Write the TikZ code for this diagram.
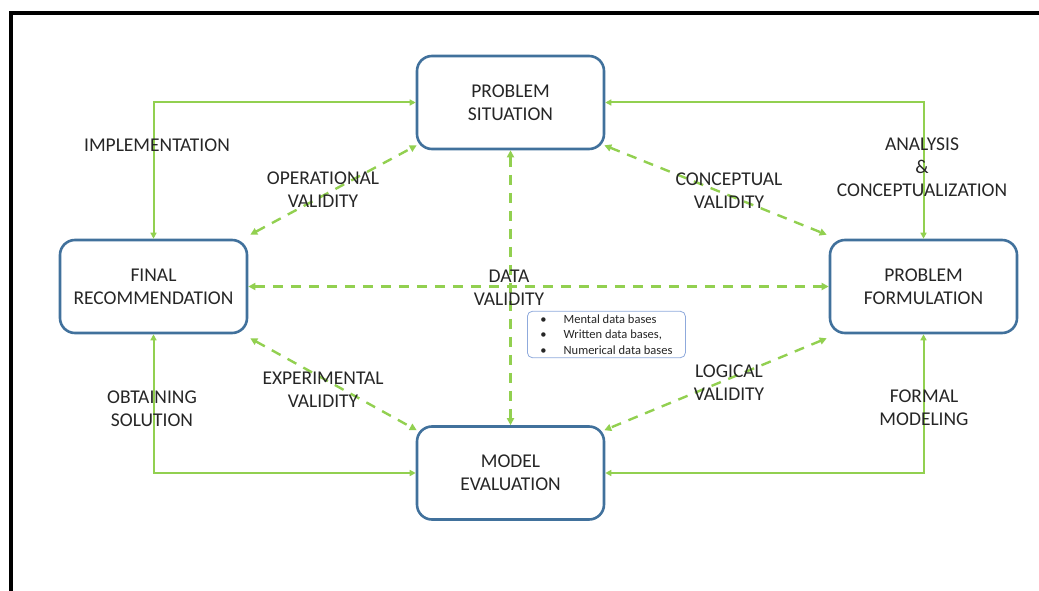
\documentclass[tikz,border=0pt]{standalone}
\usepackage{fontspec}
\setmainfont{Carlito}
\usetikzlibrary{arrows.meta}
\definecolor{boxblue}{HTML}{41719C}
\definecolor{linkgreen}{HTML}{92D050}
\definecolor{notecolor}{HTML}{8FAADC}
\tikzset{
  stage/.style={draw=boxblue, line width=2.6pt, rounded corners=15pt, fill=white,
    minimum width=187pt, minimum height=93pt, align=center, text=black!85,
    font=\fontsize{19.5}{23}\selectfont},
  flow/.style={draw=linkgreen, line width=2pt, {Triangle[length=6pt,width=6pt]}-{Triangle[length=6pt,width=6pt]}},
  check/.style={draw=linkgreen, line width=2.4pt, dash pattern=on 10pt off 8pt,
    {Triangle[length=7pt,width=7pt]}-{Triangle[length=7pt,width=7pt]}},
  tag/.style={align=center, text=black!85, font=\fontsize{19.5}{23}\selectfont},
}
\begin{document}
\begin{tikzpicture}[x=1pt,y=-1pt]
\useasboundingbox (0,0) rectangle (1039,591);
\clip (0,0) rectangle (1039,591);
% outer frame
\draw[line width=4pt] (11,620) |- (1060,13);
% the four stages
\node[stage] (sit) at (510.5,102.5) {PROBLEM\\SITUATION};
\node[stage] (rec) at (153.5,286.5) {FINAL\\RECOMMENDATION};
\node[stage] (form) at (923.5,286.5) {PROBLEM\\FORMULATION};
\node[stage] (eval) at (510.5,473) {MODEL\\EVALUATION};
% solid links
\draw[flow] (rec.north) |- (sit.west);
\draw[flow] (sit.east) -| (form.north);
\draw[flow] (form.south) |- (eval.east);
\draw[flow] (eval.west) -| (rec.south);
% dashed validity links
\draw[check] (rec.east) -- (form.west);
\draw[check] (sit.south) -- (eval.north);
\draw[check] ([shift={(2,-4)}]rec.north east) -- ([shift={(1,-5)}]sit.south west);
\draw[check] ([shift={(-1,-5)}]sit.south east) -- ([shift={(-2,-4)}]form.north west);
\draw[check] ([shift={(2,4)}]rec.south east) -- ([shift={(1,5)}]eval.north west);
\draw[check] ([shift={(-2,4)}]form.south west) -- ([shift={(-1,5)}]eval.north east);
% labels
\node[tag] (impl) at (157,145) {IMPLEMENTATION};
\node[tag] (opval) at (323,189.5) {OPERATIONAL\\VALIDITY};
\node[tag] (conval) at (729,190.5) {CONCEPTUAL\\VALIDITY};
\node[tag] (anal) at (922,167) {ANALYSIS\\\&\\CONCEPTUALIZATION};
\node[tag] (dataval) at (509,287.5) {DATA\\VALIDITY};
\node[tag] (expval) at (323,389.5) {EXPERIMENTAL\\VALIDITY};
\node[tag] (logval) at (729,382.5) {LOGICAL\\VALIDITY};
\node[tag] (obtain) at (152,409) {OBTAINING\\SOLUTION};
\node[tag] (formal) at (924,408) {FORMAL\\MODELING};
% data bases note
\node[draw=notecolor, line width=0.8pt, rounded corners=5pt, fill=white, text=black!85,
  minimum width=158pt, minimum height=45pt, font=\fontsize{12.5}{15.5}\selectfont,
  align=left, inner xsep=8pt, anchor=west] (note) at (527,334.5)
  {\textbullet\hspace{17pt}Mental data bases\\
   \textbullet\hspace{17pt}Written data bases,\\
   \textbullet\hspace{17pt}Numerical data bases};
\end{tikzpicture}
\end{document}
